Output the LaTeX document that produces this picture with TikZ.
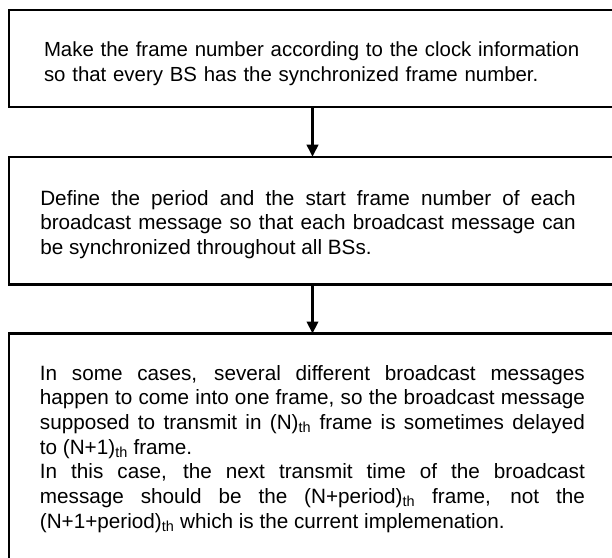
\documentclass[tikz,border=0pt]{standalone}
\usepackage{fontspec}
\setmainfont{Liberation Sans}
\usetikzlibrary{arrows.meta}
\begin{document}
\begin{tikzpicture}[x=1pt,y=-1pt,
  box/.style={draw, line width=2.4pt, rectangle, inner sep=0pt, outer sep=0pt},
  txt/.style={inner sep=0pt, anchor=base west, font=\fontsize{20.7}{24.7}\selectfont},
  flow/.style={line width=2.2pt, -{Triangle[length=12pt,width=11.5pt]}}]
\useasboundingbox (0,0) rectangle (612,557);
\clip (0,0) rectangle (612,557);
\node[box, minimum width=607.6pt, minimum height=97.4pt] (b1) at (312.5,58.5) {};
\node[box, minimum width=607.6pt, minimum height=127.6pt] (b2) at (312.5,220.5) {};
\node[box, minimum width=607.6pt, minimum height=236.5pt] (b3) at (312.5,451.75) {};
\draw[flow] (b1.south) -- (b2.north);
\draw[flow] (b2.south) -- (b3.north);
\node[txt, text width=560pt, font=\fontsize{20.4}{25}\selectfont] (t1) at (43.8,56)
  {\raggedright\hyphenpenalty=10000 Make the frame number according to the clock information\newline so that every BS has the synchronized frame number.};
\node[txt, text width=535.5pt, align=justify] (t2) at (40.1,205)
  {Define the period and the start frame number of each\linebreak
   broadcast message so that each broadcast message can\linebreak
   be synchronized throughout all BSs.};
\node[txt, text width=545pt, align=justify] (t3) at (39.7,380)
  {In some cases, several different broadcast messages\linebreak
   happen to come into one frame, so the broadcast message\linebreak
   supposed to transmit in (N)\textsubscript{th} frame is sometimes delayed\linebreak
   to (N+1)\textsubscript{th} frame.\\
   In this case, the next transmit time of the broadcast\linebreak
   message should be the (N+period)\textsubscript{th} frame, not the\linebreak
   (N+1+period)\textsubscript{th} which is the current implemenation.};
\end{tikzpicture}
\end{document}
